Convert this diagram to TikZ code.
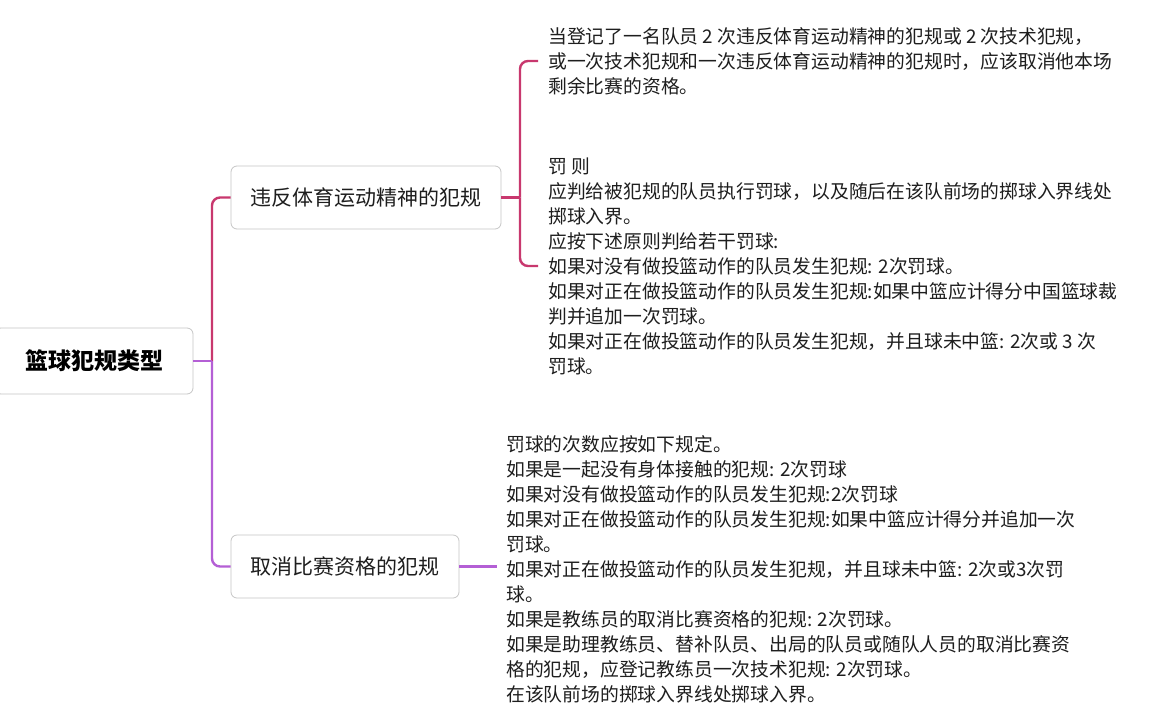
\documentclass[tikz,border=0pt]{standalone}
\usepackage{fontspec}
\setmainfont{Noto Sans CJK SC}
\definecolor{pinkline}{HTML}{C8386E}
\definecolor{purpline}{HTML}{B45FD5}
\definecolor{boxgray}{HTML}{C6C6C6}
\definecolor{txt}{HTML}{1E1E1E}
\begin{document}
\begin{tikzpicture}[x=1pt,y=-1pt,
  rootbox/.style={draw=boxgray, line width=0.8pt, rounded corners=6pt, fill=white,
    minimum width=198pt, minimum height=66pt, inner sep=0pt, text=black,
    font=\fontsize{23}{26}\selectfont\bfseries},
  branchbox/.style={draw=boxgray, line width=0.8pt, rounded corners=6pt, fill=white,
    minimum height=63pt, inner sep=0pt, text=txt,
    font=\fontsize{21}{24}\selectfont},
  leaf/.style={anchor=west, align=left, inner xsep=10pt, inner ysep=0pt, text=txt,
    font=\fontsize{18.8}{25}\selectfont},
  pinkc/.style={draw=pinkline, line width=2.4pt, rounded corners=8pt},
  purpc/.style={draw=purpline, line width=2.4pt, rounded corners=8pt}
]
\useasboundingbox (0,0) rectangle (1153,707);
\fill[white] (0,0) rectangle (1153,707);

\node[rootbox] (root) at (94,361) {篮球犯规类型};
\node[branchbox, minimum width=270pt] (b1) at (366,197.5) {违反体育运动精神的犯规};
\node[branchbox, minimum width=228pt] (b2) at (345,566.5) {取消比赛资格的犯规};

\coordinate (j) at (212,361);
\coordinate (k) at (520,197.5);

\node[leaf] (t1) at (538,61) {当登记了一名队员 2 次违反体育运动精神的犯规或 2 次技术犯规，\\
或一次技术犯规和一次违反体育运动精神的犯规时，应该取消他本场\\
剩余比赛的资格。};

\node[leaf] (t2) at (538,266) {罚 则\\
应判给被犯规的队员执行罚球，以及随后在该队前场的掷球入界线处\\
掷球入界。\\
应按下述原则判给若干罚球:\\
如果对没有做投篮动作的队员发生犯规: 2次罚球。\\
如果对正在做投篮动作的队员发生犯规:如果中篮应计得分中国篮球裁\\
判并追加一次罚球。\\
如果对正在做投篮动作的队员发生犯规，并且球未中篮: 2次或 3 次\\
罚球。};

\node[leaf, inner xsep=9pt] (t3) at (497,569) {罚球的次数应按如下规定。\\
如果是一起没有身体接触的犯规: 2次罚球\\
如果对没有做投篮动作的队员发生犯规:2次罚球\\
如果对正在做投篮动作的队员发生犯规:如果中篮应计得分并追加一次\\
罚球。\\
如果对正在做投篮动作的队员发生犯规，并且球未中篮: 2次或3次罚\\
球。\\
如果是教练员的取消比赛资格的犯规: 2次罚球。\\
如果是助理教练员、替补队员、出局的队员或随队人员的取消比赛资\\
格的犯规，应登记教练员一次技术犯规: 2次罚球。\\
在该队前场的掷球入界线处掷球入界。};

% connectors
\draw[pinkc] (j) |- (b1.west);
\draw[purpc] (j) |- (b2.west);
\draw[purpc] (root.east) -- (j);
\draw[pinkc] (b1.east) -- (k);
\draw[pinkc] (k) |- (t1.west);
\draw[pinkc] (k) |- (t2.west);
\draw[purpc] (b2.east) -- (b2.east -| t3.west);
\end{tikzpicture}
\end{document}
